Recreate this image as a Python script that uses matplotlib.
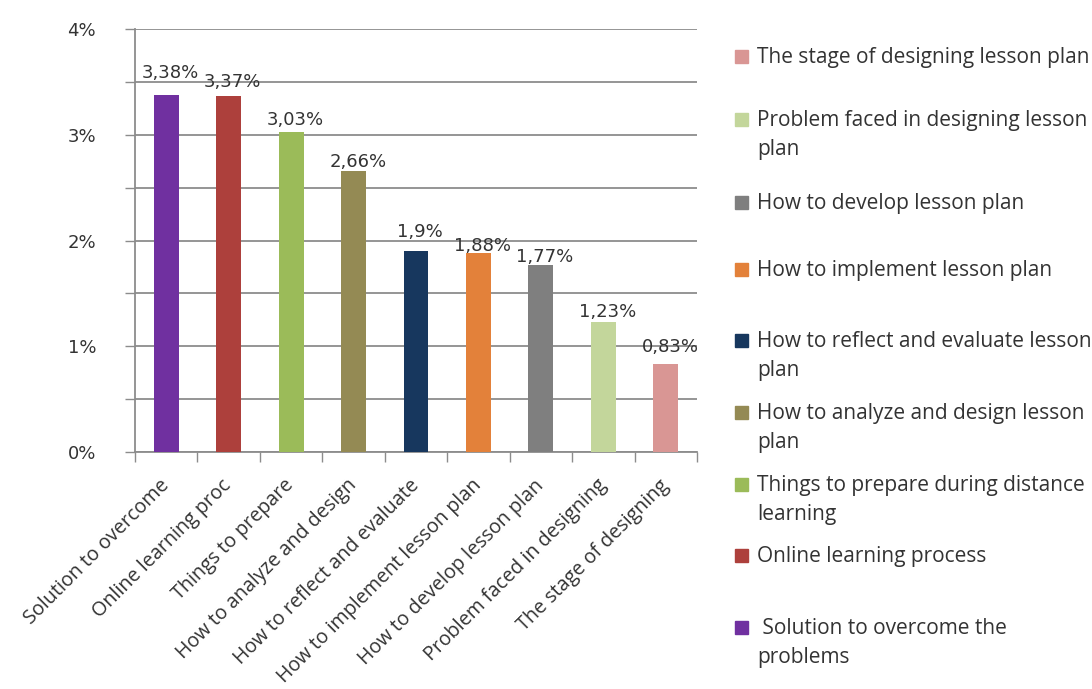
import matplotlib
matplotlib.use("Agg")
import matplotlib.pyplot as plt
from matplotlib.patches import Rectangle
from matplotlib.ticker import MultipleLocator, FixedLocator

plt.rcParams["font.family"] = ["Open Sans", "DejaVu Sans"]

# short names under the bars, full names in the legend
short_names = [
    "Solution to overcome",
    "Online learning proc",
    "Things to prepare",
    "How to analyze and design",
    "How to reflect and evaluate",
    "How to implement lesson plan",
    "How to develop lesson plan",
    "Problem faced in designing",
    "The stage of designing",
]
full_names = [
    " Solution to overcome the\nproblems",
    "Online learning process",
    "Things to prepare during distance\nlearning",
    "How to analyze and design lesson\nplan",
    "How to reflect and evaluate lesson\nplan",
    "How to implement lesson plan",
    "How to develop lesson plan",
    "Problem faced in designing lesson\nplan",
    "The stage of designing lesson plan",
]
values = [3.38, 3.37, 3.03, 2.66, 1.9, 1.88, 1.77, 1.23, 0.83]
value_labels = ["3,38%", "3,37%", "3,03%", "2,66%", "1,9%", "1,88%", "1,77%", "1,23%", "0,83%"]
colors = ["#7030A0", "#AD403C", "#9BBB59", "#948A54", "#17375E",
          "#E3813A", "#7F7F7F", "#C3D69B", "#D99694"]

# gap (points) between each bar top and the baseline of its value label
label_gap = [12, 6, 5, 3, 10, 1.5, 2, 3.5, 8.5]

W, H = 1092, 689
fig = plt.figure(figsize=(W / 100, H / 100), dpi=100)
ax = fig.add_axes([135 / W, 1 - 452 / H, (697 - 135) / W, (452 - 29) / H])

x = list(range(len(values)))
ax.bar(x, values, width=0.4, color=colors, zorder=3)
for xi, v, lab, gap in zip(x, values, value_labels, label_gap):
    ax.annotate(lab, (xi, v), xytext=(3, gap), textcoords="offset points",
                ha="center", va="baseline", fontsize=13, family="DejaVu Sans",
                color="#333333", zorder=4)

ax.set_xlim(-0.5, len(values) - 0.5)
ax.set_ylim(0, 4)
ax.yaxis.set_major_locator(MultipleLocator(1))
ax.yaxis.set_minor_locator(MultipleLocator(0.5))
ax.set_yticklabels([f"{int(t)}%" for t in ax.get_yticks()], family="DejaVu Sans")
ax.grid(axis="y", which="both", color="#8c8c8c", linewidth=1.3, zorder=0)
ax.tick_params(axis="y", which="both", length=7, width=1, color="#8c8c8c",
               labelsize=13, labelcolor="#333333", pad=21)

# category ticks sit between the bars, labels under each bar
ax.xaxis.set_major_locator(FixedLocator([i - 0.5 for i in range(len(values) + 1)]))
ax.tick_params(axis="x", which="major", length=7, width=1, color="#8c8c8c",
               labelbottom=False)
ax.set_xticks(x, minor=True)
ax.tick_params(axis="x", which="minor", length=0, pad=22)
ax.set_xticklabels(short_names, minor=True, rotation=45, ha="right", va="center",
                   rotation_mode="anchor", fontsize=14.2, color="#333333")

for side in ("top", "right"):
    ax.spines[side].set_visible(False)
for side in ("left", "bottom"):
    ax.spines[side].set_color("#8c8c8c")
    ax.spines[side].set_linewidth(1.3)

# legend drawn entry by entry, last bar first
legend_y = [628, 556, 485, 413, 341, 270, 203, 120, 57]
for name, col, yc in zip(full_names, colors, legend_y):
    fig.patches.append(Rectangle((735 / W, 1 - (yc + 6) / H), 13 / W, 13 / H,
                                 transform=fig.transFigure, color=col))
    fig.text(757 / W, 1 - (yc - 10) / H, name, ha="left", va="top",
             fontsize=15, color="#333333", linespacing=1.52)

fig.savefig("out.png", dpi=100)
